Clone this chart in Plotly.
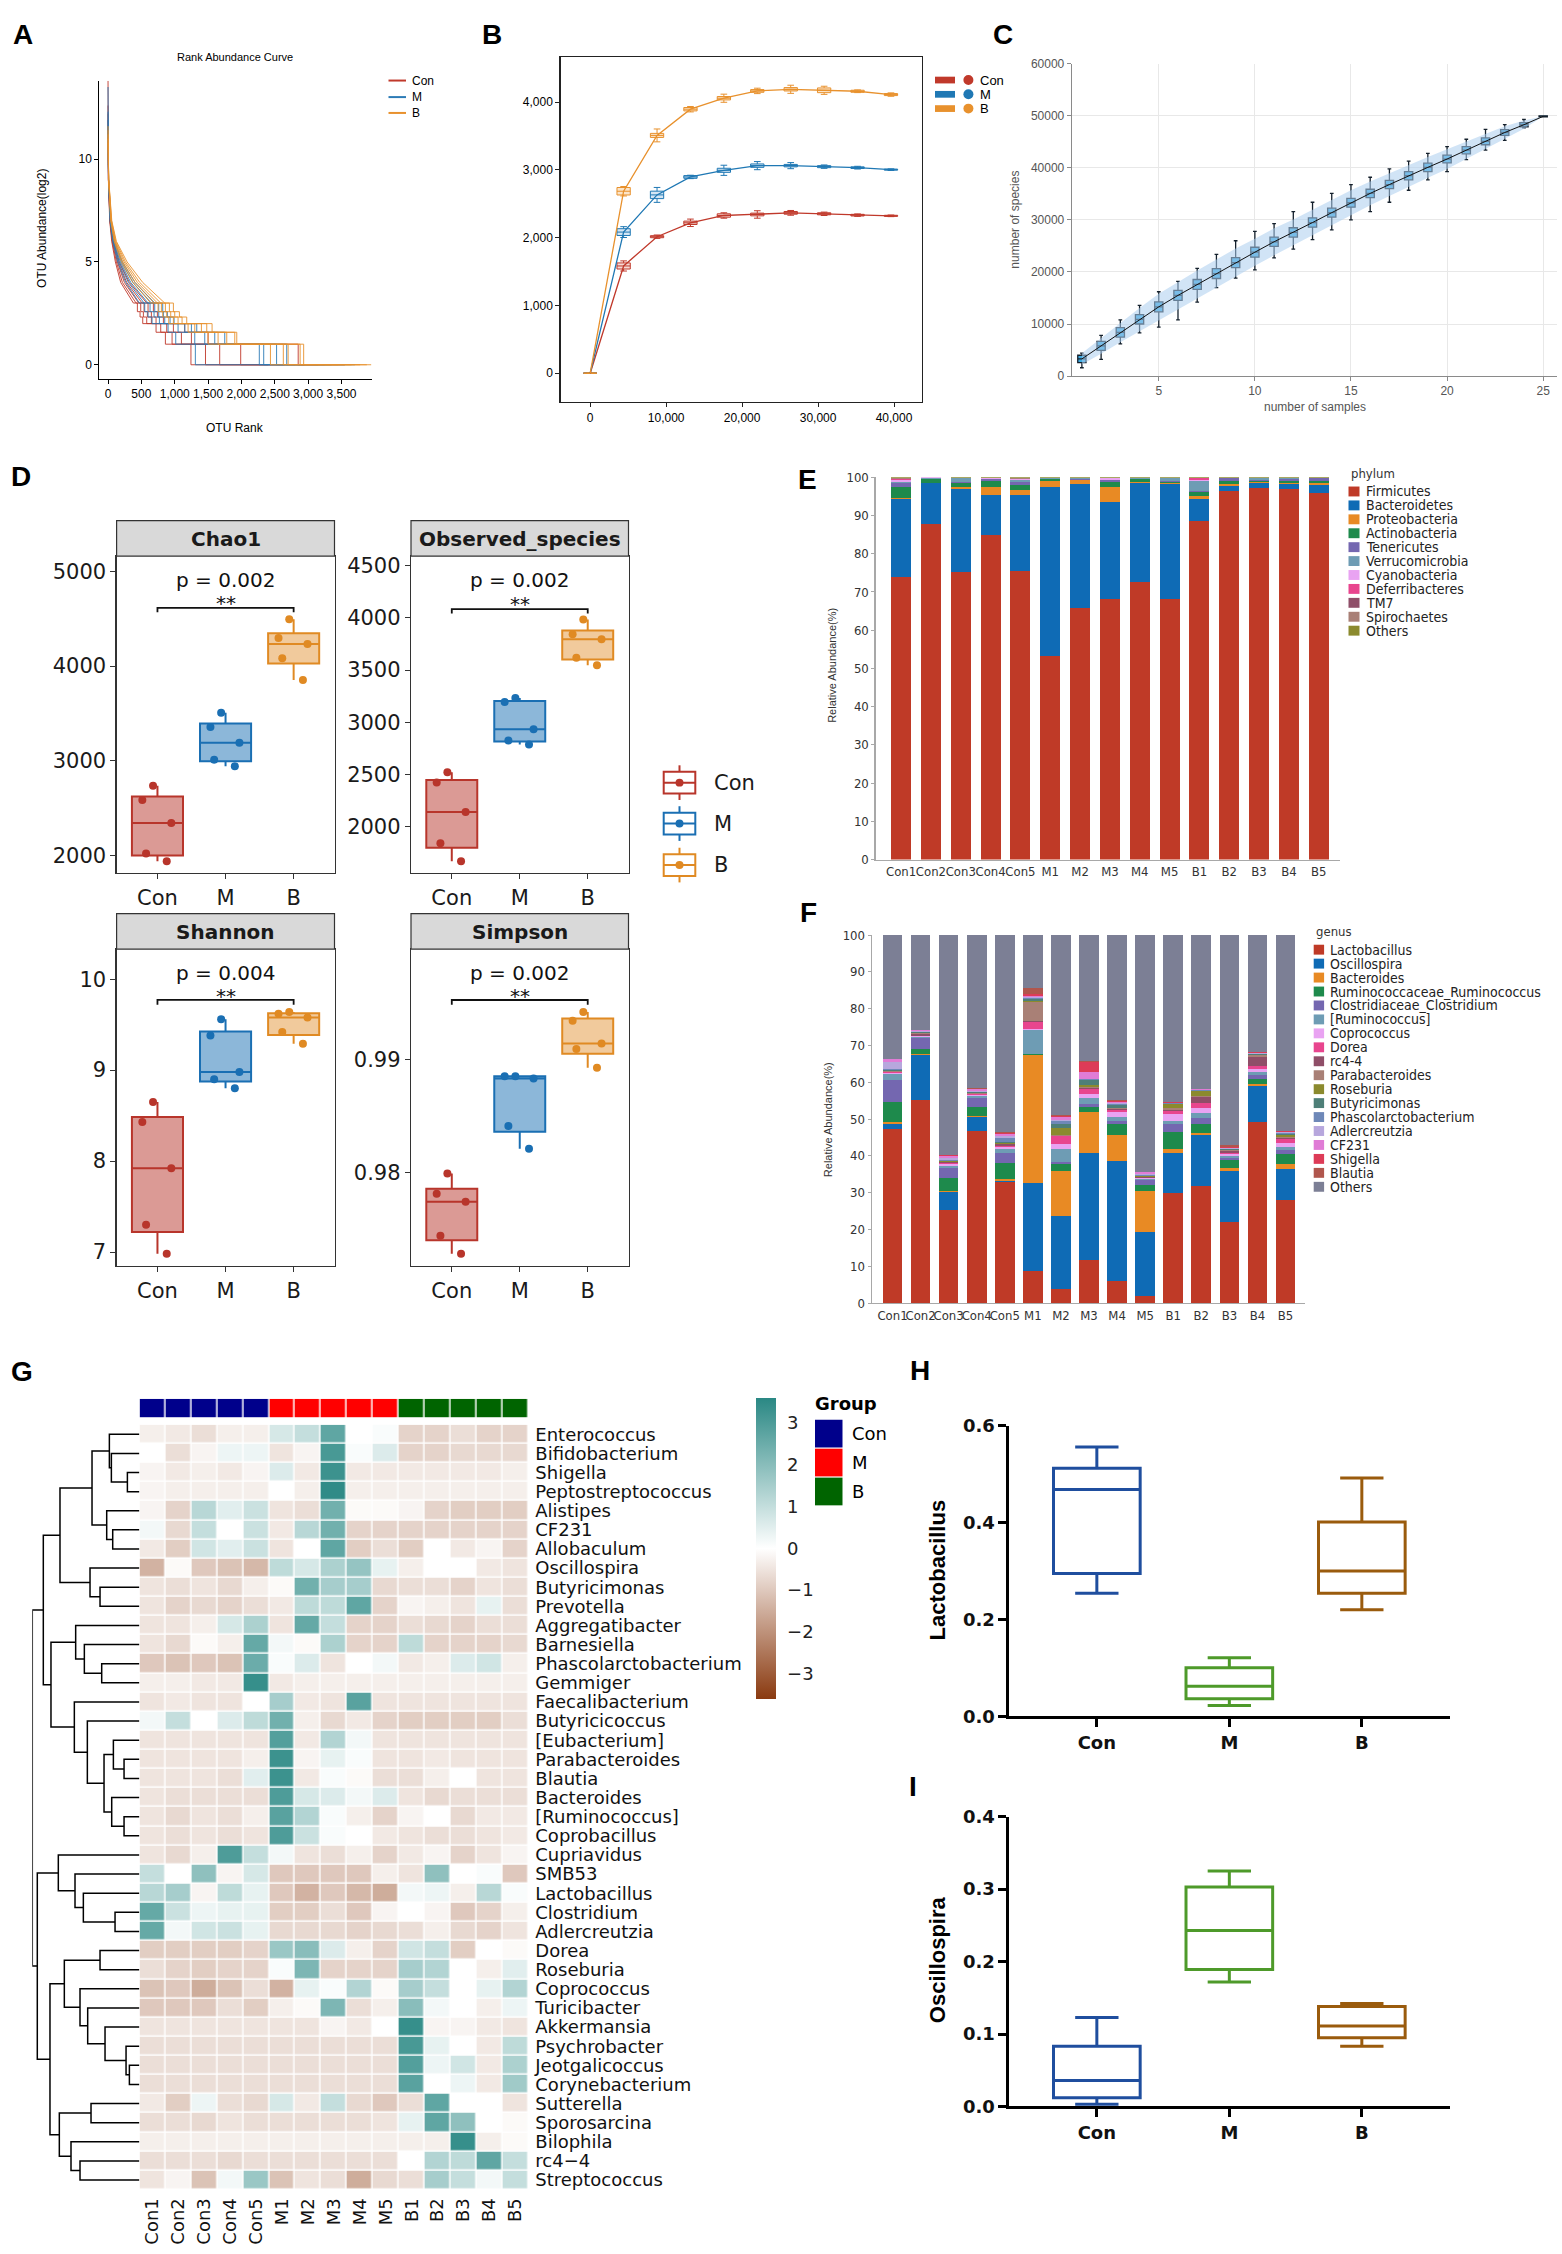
import plotly.graph_objects as go

W, H = 1562, 2254
SANS = "Liberation Sans, Arial, Helvetica, sans-serif"
NARROW = "Liberation Sans Narrow, DejaVu Sans Condensed, Arial Narrow, Liberation Sans, sans-serif"
DEJAVU = "DejaVu Sans, Verdana, sans-serif"

# ---------------- shared categories ----------------
GROUPS = ["Con", "M", "B"]
SAMPLES = ["Con1", "Con2", "Con3", "Con4", "Con5", "M1", "M2", "M3", "M4", "M5",
           "B1", "B2", "B3", "B4", "B5"]
SAMPLE_GROUP = ["Con"] * 5 + ["M"] * 5 + ["B"] * 5

# ---------------- A: rank abundance ----------------
RA_TOP = [13.8, 12.6, 12.2, 11.9, 11.6, 13.5, 12.3, 11.9, 11.6, 11.3, 11.6, 11.4, 11.2, 11.0, 10.8]
RA_HEAD_LEVELS = [9, 7, 6, 5, 4, 3]
RA_HEAD_RANKS = [
    [5, 25, 55, 110, 190, 380], [6, 28, 62, 125, 215, 420], [6, 30, 68, 140, 245, 460],
    [7, 32, 74, 155, 280, 510], [8, 35, 80, 170, 320, 580],
    [6, 30, 70, 145, 265, 470], [7, 34, 78, 165, 305, 540], [8, 37, 85, 185, 340, 600],
    [8, 40, 92, 200, 375, 650], [9, 43, 98, 215, 405, 700],
    [8, 40, 92, 200, 370, 640], [9, 44, 100, 220, 405, 690], [10, 48, 108, 240, 440, 740],
    [10, 52, 116, 260, 475, 790], [11, 56, 125, 285, 520, 850],
]
RA_STEP_LEVELS = [2.58, 2.32, 2, 1.58, 1, 0]
RA_STEP_RANKS = [
    [440, 480, 520, 720, 860, 1243], [490, 530, 580, 790, 960, 1461], [540, 590, 650, 880, 1100, 1674],
    [600, 650, 720, 980, 1250, 1989], [680, 740, 830, 1150, 1500, 2851],
    [550, 600, 660, 900, 1015, 1309], [630, 690, 770, 1050, 1300, 2268], [700, 760, 850, 1150, 1450, 2334],
    [760, 830, 930, 1250, 1600, 2527], [820, 890, 990, 1330, 1750, 2679],
    [750, 820, 910, 1200, 1500, 2435], [800, 880, 980, 1300, 1650, 2628], [860, 940, 1050, 1400, 1780, 2700],
    [920, 1000, 1110, 1480, 1900, 2880], [980, 1070, 1180, 1560, 1930, 2933],
]
RA_END = [2400, 2650, 2950, 3150, 3550, 2800, 3250, 3350, 3550, 3700, 3450, 3650, 3780, 3880, 3947]

# ---------------- B: rarefaction ----------------
B_DEPTH = [0, 4400, 8800, 13200, 17600, 22000, 26400, 30800, 35200, 39600]
B_MED = {
    "Con": [0, 1583, 2015, 2220, 2328, 2343, 2367, 2353, 2333, 2323],
    "M": [0, 2083, 2632, 2897, 2995, 3064, 3064, 3049, 3034, 3005],
    "B": [0, 2686, 3510, 3897, 4059, 4167, 4191, 4176, 4162, 4113],
}
B_IQR_HALF = {
    "Con": [0, 45, 15, 25, 25, 20, 20, 15, 12, 8],
    "M": [0, 50, 55, 20, 30, 25, 18, 15, 12, 8],
    "B": [0, 55, 30, 25, 25, 20, 25, 35, 15, 15],
}
B_WHISK_HALF = {
    "Con": [0, 75, 25, 55, 40, 55, 35, 25, 18, 12],
    "M": [0, 80, 110, 25, 75, 60, 45, 25, 20, 12],
    "B": [0, 70, 95, 40, 60, 40, 60, 60, 20, 25],
}

# ---------------- C: species accumulation ----------------
C_N = list(range(1, 26))
C_MED = [3300, 5800, 8400, 10900, 13300, 15500, 17600, 19700, 21800, 23800, 25800, 27600, 29500,
         31400, 33300, 35100, 36800, 38500, 40100, 41700, 43400, 45100, 46800, 48300, 49900]
C_IQR_HALF = [700, 850, 900, 900, 950, 950, 950, 950, 950, 950, 900, 900, 900, 850, 850, 800, 800,
              800, 800, 750, 700, 650, 550, 400, 100]
C_LO = [1600, 3200, 6200, 8300, 9400, 10800, 14200, 17000, 18800, 20400, 22700, 24400, 26200,
        28100, 30000, 31600, 33400, 35700, 37700, 39300, 41600, 43400, 45300, 47700, 49900]
C_HI = [4400, 7800, 10800, 13600, 16200, 18200, 20700, 23400, 26000, 27800, 29300, 31600, 33400,
        35100, 36800, 38200, 39800, 41300, 42800, 44100, 45500, 47400, 48300, 49300, 49900]
C_BAND_HALF = [1100, 1500, 1900, 2200, 2500, 2600, 2700, 2700, 2700, 2600, 2600, 2500, 2500, 2400,
               2400, 2300, 2200, 2100, 2000, 1900, 1700, 1500, 1200, 800, 0]

# ---------------- D: alpha diversity ----------------
D_METRICS = ["Chao1", "Observed_species", "Shannon", "Simpson"]
D_CHAO1 = {"Con": [2733, 2583, 2340, 2017, 1937], "M": [3506, 3356, 3189, 3010, 2940],
           "B": [4493, 4296, 4233, 4083, 3852]}
D_OBS = {"Con": [2522, 2423, 2141, 1843, 1671], "M": [3232, 3195, 2934, 2825, 2788],
         "B": [3983, 3842, 3795, 3618, 3545]}
D_SHANNON = {"Con": [8.65, 8.43, 7.92, 7.30, 6.98], "M": [9.56, 9.38, 8.98, 8.90, 8.80],
             "B": [9.64, 9.62, 9.58, 9.42, 9.29]}
D_SIMPSON = {"Con": [0.97995, 0.97816, 0.97744, 0.97444, 0.97285],
             "M": [0.98855, 0.98855, 0.98836, 0.98415, 0.98213],
             "B": [0.99425, 0.99348, 0.99145, 0.99097, 0.98932]}
D_P = ["p = 0.002", "p = 0.002", "p = 0.004", "p = 0.002"]
D_SIG = ["**", "**", "**", "**"]

# ---------------- E: phylum ----------------
PHYLA = ["Firmicutes", "Bacteroidetes", "Proteobacteria", "Actinobacteria", "Tenericutes",
         "Verrucomicrobia", "Cyanobacteria", "Deferribacteres", "TM7", "Spirochaetes", "Others"]
E_FIRMICUTES = [73.9, 87.9, 75.1, 84.8, 75.5, 53.3, 65.7, 68.1, 72.6, 68.1, 88.7, 96.5, 97.2, 96.9, 95.9]
E_BACTEROIDETES = [20.5, 10.5, 21.9, 10.6, 19.9, 44.1, 32.5, 25.4, 25.9, 30.1, 5.6, 1.3, 1.3, 1.3, 2.2]
E_PROTEOBACTERIA = [0.2, 0.1, 0.5, 2.0, 1.2, 1.7, 1.0, 3.9, 0.4, 0.3, 0.7, 0.5, 0.2, 0.3, 0.5]
E_ACTINOBACTERIA = [2.8, 1.0, 1.0, 1.7, 1.4, 0.4, 0.2, 1.5, 0.6, 0.3, 1.1, 0.8, 0.3, 0.6, 0.5]
E_TENERICUTES = [1.1, 0.1, 0.4, 0.4, 0.8, 0.1, 0.2, 0.3, 0.1, 0.2, 0.3, 0.6, 0.3, 0.4, 0.6]
E_VERRUCOMICROBIA = [0.2, 0.3, 0.8, 0.1, 0.4, 0.1, 0.2, 0.2, 0.1, 0.7, 2.7, 0.1, 0.4, 0.3, 0.1]
E_CYANOBACTERIA = [0.5, 0.1, 0.1, 0.2, 0.4, 0.1, 0.1, 0.3, 0.1, 0.1, 0.1, 0.1, 0.1, 0.1, 0.1]
E_DEFERRIBACTERES = [0.3, 0, 0, 0, 0, 0, 0, 0, 0, 0, 0.6, 0, 0, 0, 0]
E_TM7 = [0.1, 0, 0, 0, 0, 0, 0, 0, 0, 0, 0.1, 0, 0, 0, 0]
E_SPIROCHAETES = [0.1, 0, 0, 0, 0.1, 0, 0, 0, 0, 0, 0, 0, 0, 0, 0]
E_OTHERS = [0.3, 0.0, 0.2, 0.2, 0.3, 0.2, 0.1, 0.3, 0.2, 0.2, 0.1, 0.1, 0.2, 0.1, 0.1]
E_VALUES = [E_FIRMICUTES, E_BACTEROIDETES, E_PROTEOBACTERIA, E_ACTINOBACTERIA, E_TENERICUTES,
            E_VERRUCOMICROBIA, E_CYANOBACTERIA, E_DEFERRIBACTERES, E_TM7, E_SPIROCHAETES, E_OTHERS]
PALETTE = ["#BF3A27", "#0F6BB5", "#E88A24", "#1E8A4C", "#7467B0", "#6E9CB4", "#E9A3F2",
           "#E8458E", "#8F4E68", "#A98076", "#8B8A2E", "#4E7F78", "#6E88B8", "#B7A7DD",
           "#E07CD6", "#DD3B57", "#B0564D"]
E_COLORS = PALETTE[:10] + ["#8B8A2E"]

# ---------------- F: genus ----------------
GENERA = ["Lactobacillus", "Oscillospira", "Bacteroides", "Ruminococcaceae_Ruminococcus",
          "Clostridiaceae_Clostridium", "[Ruminococcus]", "Coprococcus", "Dorea", "rc4-4",
          "Parabacteroides", "Roseburia", "Butyricimonas", "Phascolarctobacterium",
          "Adlercreutzia", "CF231", "Shigella", "Blautia", "Others"]
F_VALUES = [
    [47.3, 55.2, 25.3, 46.8, 32.9, 8.6, 3.8, 11.8, 6.1, 1.9, 29.9, 31.7, 21.9, 49.1, 28.1],
    [1.3, 12.3, 4.9, 3.8, 0.3, 24.1, 19.8, 29.0, 32.4, 17.5, 11.0, 13.9, 14.0, 9.8, 8.4],
    [0.7, 0.3, 0.3, 0.2, 0.5, 34.6, 12.3, 11.0, 7.3, 11.0, 0.9, 0.5, 0.8, 0.7, 1.2],
    [5.4, 1.2, 3.6, 2.4, 4.4, 0.3, 1.9, 1.4, 2.8, 1.8, 4.8, 2.6, 2.2, 1.3, 2.8],
    [6.0, 3.0, 2.5, 2.6, 2.8, 0.2, 0.5, 0.8, 0.9, 1.2, 2.0, 1.7, 0.6, 1.0, 1.0],
    [1.5, 0.4, 0.6, 0.5, 0.9, 6.3, 3.6, 1.6, 1.0, 0.3, 1.0, 1.2, 0.4, 0.8, 0.8],
    [0.3, 0.2, 0.5, 0.2, 0.6, 0.4, 1.4, 1.2, 1.3, 0.2, 1.7, 1.5, 0.5, 1.0, 1.2],
    [0.2, 0.1, 0.3, 0.2, 0.4, 2.0, 2.0, 1.3, 0.6, 0.2, 1.0, 1.3, 0.3, 0.8, 1.0],
    [0.1, 0.3, 0.2, 0.1, 0.3, 0.2, 0.2, 0.3, 0.3, 0.1, 0.3, 1.5, 0.5, 2.5, 0.3],
    [0.2, 0.4, 0.2, 0.2, 0.2, 5.0, 0.3, 0.4, 0.3, 0.1, 0.3, 0.3, 0.3, 0.3, 0.3],
    [0.1, 0.1, 0.1, 0.1, 0.1, 0.3, 1.8, 0.5, 0.1, 0.1, 1.2, 1.3, 0.1, 0.2, 0.6],
    [0.2, 0.1, 0.1, 0.2, 0.5, 0.6, 1.0, 1.2, 0.8, 0.2, 0.1, 0.2, 0.2, 0.2, 0.3],
    [0.3, 0.2, 0.4, 0.1, 0.9, 0.4, 0.8, 0.3, 0.3, 0.3, 0.1, 0.1, 0.2, 0.1, 0.2],
    [2.0, 0.2, 0.5, 0.3, 0.6, 0.3, 0.3, 0.2, 0.2, 0.3, 0.1, 0.1, 0.1, 0.1, 0.2],
    [0.6, 0.1, 0.4, 0.5, 0.6, 0.2, 0.9, 1.8, 0.2, 0.3, 0.1, 0.2, 0.1, 0.1, 0.2],
    [0.1, 0.1, 0.3, 0.1, 0.3, 0.4, 0.3, 2.8, 0.2, 0.1, 0.1, 0.1, 0.2, 0.1, 0.1],
    [0.1, 0.1, 0.1, 0.1, 0.2, 1.6, 0.3, 0.2, 0.3, 0.1, 0.1, 0.1, 0.6, 0.1, 0.1],
    [33.6, 25.7, 59.7, 41.6, 53.5, 14.5, 48.8, 34.2, 44.9, 64.3, 45.3, 41.7, 57.0, 31.8, 53.2],
]
F_COLORS = PALETTE + ["#7C7F95"]

# ---------------- G: heatmap ----------------
HM_GENERA = ["Enterococcus", "Bifidobacterium", "Shigella", "Peptostreptococcus", "Alistipes",
             "CF231", "Allobaculum", "Oscillospira", "Butyricimonas", "Prevotella",
             "Aggregatibacter", "Barnesiella", "Phascolarctobacterium", "Gemmiger",
             "Faecalibacterium", "Butyricicoccus", "[Eubacterium]", "Parabacteroides", "Blautia",
             "Bacteroides", "[Ruminococcus]", "Coprobacillus", "Cupriavidus", "SMB53",
             "Lactobacillus", "Clostridium", "Adlercreutzia", "Dorea", "Roseburia", "Coprococcus",
             "Turicibacter", "Akkermansia", "Psychrobacter", "Jeotgalicoccus", "Corynebacterium",
             "Sutterella", "Sporosarcina", "Bilophila", "rc4\u22124", "Streptococcus"]
HM_Z = [
    [-0.3, -0.4, -0.6, -0.3, -0.3, 0.7, 1.0, 2.7, 0.0, 0.1, -0.8, -0.8, -0.6, -0.8, -0.8],
    [0.0, -0.6, -0.2, 0.3, 0.3, -0.5, -0.2, 3.1, 0.1, 0.6, -0.8, -0.8, -0.7, -0.7, -0.7],
    [-0.2, -0.4, -0.3, -0.4, -0.2, 0.6, -0.4, 3.3, -0.4, -0.4, -0.4, -0.4, -0.4, -0.4, -0.3],
    [-0.2, -0.3, -0.3, -0.3, -0.3, 0.0, -0.3, 3.5, -0.3, -0.3, -0.3, -0.3, -0.3, -0.3, -0.3],
    [-0.2, -0.8, 1.2, 0.5, 0.9, -0.5, -0.6, 2.4, -0.1, -0.1, -0.2, -0.8, -0.9, -0.9, -0.9],
    [0.2, -0.7, 1.0, 0.0, 0.9, -0.4, 1.2, 2.4, -0.8, -0.8, -0.8, -0.8, -0.8, -0.8, -0.8],
    [-0.4, -0.9, 0.8, 0.5, 0.9, -0.5, 0.0, 2.7, -0.9, -0.6, -0.9, 0.0, -0.4, -0.2, -0.8],
    [-1.4, -0.1, -1.0, -1.1, -1.3, 1.1, 0.7, 1.4, 1.8, 0.4, -0.3, 0.0, 0.0, -0.4, -0.5],
    [-0.5, -0.6, -0.5, -0.7, -0.3, -0.1, 2.4, 1.5, 1.5, -0.7, -0.6, -0.6, -0.8, -0.5, -0.6],
    [-0.5, -0.8, -0.7, -0.8, -0.6, -0.4, 1.1, 1.1, 2.7, -0.8, -0.2, -0.3, -0.5, 0.4, -0.6],
    [-0.5, -0.5, -0.3, 0.7, 1.4, -0.5, 2.6, 1.0, -0.8, -0.8, -0.6, -0.7, -0.8, -0.6, -0.6],
    [-0.5, -0.7, -0.1, -0.3, 2.6, 0.2, -0.1, 1.4, -0.8, -0.8, 1.1, -0.8, -0.8, -0.8, -0.7],
    [-1.0, -1.1, -1.0, -1.1, 2.5, 0.1, 0.6, -0.5, 0.0, 0.2, -0.4, -0.3, 0.6, 0.8, -0.3],
    [-0.3, -0.3, -0.4, -0.4, 3.4, -0.4, -0.3, -0.3, -0.3, -0.3, -0.3, -0.3, -0.3, -0.3, -0.3],
    [-0.5, -0.4, -0.5, -0.5, 0.0, 1.5, -0.4, -0.5, 2.8, -0.5, -0.5, -0.5, -0.5, -0.5, -0.5],
    [0.2, 1.0, 0.0, 0.6, 1.1, 2.4, -0.3, -0.7, -0.4, -0.8, -0.9, -0.9, -0.9, -0.9, -0.6],
    [-0.5, -0.5, -0.5, -0.5, -0.5, 2.9, -0.4, 1.3, 0.2, -0.5, -0.5, -0.5, -0.5, -0.5, -0.5],
    [-0.5, -0.5, -0.5, -0.5, -0.3, 3.3, -0.2, 0.4, 0.1, -0.5, -0.5, -0.4, -0.5, -0.5, -0.5],
    [-0.5, -0.5, -0.5, -0.6, 0.5, 3.3, -0.4, 0.1, -0.1, -0.6, -0.6, -0.3, 0.0, -0.5, -0.5],
    [-0.5, -0.6, -0.6, -0.6, -0.6, 3.0, 0.7, 0.6, 0.2, 0.6, -0.5, -0.7, -0.6, -0.6, -0.6],
    [-0.5, -0.7, -0.5, -0.6, -0.3, 2.8, 1.3, 0.1, -0.3, -0.8, -0.2, 0.0, -0.7, -0.4, -0.4],
    [-0.5, -0.6, -0.5, -0.6, -0.5, 3.0, 0.9, 0.1, 0.0, -0.4, -0.5, -0.6, -0.6, -0.5, -0.4],
    [-0.5, -0.7, -0.3, 3.0, 1.0, 0.2, -0.5, -0.6, -0.3, -0.8, -0.4, -0.2, -0.8, -0.5, -0.2],
    [1.0, 0.0, 1.9, -0.2, 0.7, -1.0, -1.0, -1.0, -1.0, -0.3, -0.5, 1.9, 0.0, 0.1, -1.0],
    [1.2, 1.5, -0.2, 1.1, 0.4, -1.0, -1.4, -1.0, -1.3, -1.5, 0.2, 0.3, -0.3, 1.2, 0.1],
    [2.6, 0.9, 0.3, 0.4, 0.4, -0.9, -0.9, -0.6, -1.0, -0.2, 0.0, -0.2, -1.0, -0.8, -0.3],
    [2.6, 0.2, 0.8, 0.9, 0.4, -0.7, -0.7, -0.7, -0.8, -0.7, -0.6, -0.3, -0.7, -0.8, -0.5],
    [-0.9, -0.9, -0.9, -0.9, -0.8, 1.7, 2.0, 0.6, -0.3, -0.8, 0.8, 1.0, -0.9, 0.0, -0.1],
    [-0.6, -0.8, -0.9, -0.8, -0.8, 0.1, 2.2, -0.8, -0.8, -0.8, 1.5, 1.3, 0.0, -0.3, 0.5],
    [-1.1, -1.0, -1.5, -1.1, -0.6, -1.4, 0.4, 0.1, 1.3, -0.1, 1.5, 1.0, 0.0, 0.4, 1.3],
    [-1.0, -1.0, -1.0, -0.6, -0.9, -0.3, -0.1, 2.2, -0.6, -0.3, 2.0, 0.2, 0.0, -0.3, 0.3],
    [-0.5, -0.5, -0.5, -0.5, -0.5, -0.5, -0.5, -0.2, -0.4, 0.0, 3.4, -0.2, -0.2, -0.4, -0.5],
    [-0.6, -0.6, -0.6, -0.6, -0.6, -0.6, -0.6, -0.6, -0.6, -0.6, 3.1, 0.4, 0.0, -0.4, 1.1],
    [-0.6, -0.6, -0.6, -0.6, -0.6, -0.6, -0.6, -0.6, -0.6, -0.6, 2.9, 0.3, 0.8, -0.4, 1.4],
    [-0.6, -0.6, -0.6, -0.6, -0.6, -0.6, -0.6, -0.6, -0.6, -0.6, 2.8, 0.0, 0.3, -0.4, 1.6],
    [-0.4, -0.9, 0.3, -0.6, -0.7, 0.7, -0.4, 1.0, -0.7, -1.0, -0.6, 2.7, 0.0, 0.0, -0.5],
    [-0.6, -0.6, -0.7, -0.5, -0.6, -0.6, -0.6, -0.6, -0.6, -0.5, 0.4, 2.7, 1.9, 0.0, -0.1],
    [-0.3, -0.3, -0.3, -0.3, -0.3, -0.3, -0.3, -0.3, -0.3, -0.3, -0.3, -0.3, 3.4, -0.3, -0.1],
    [-0.6, -0.6, -0.6, -0.7, -0.6, -0.6, -0.6, -0.6, -0.6, -0.6, 0.0, 1.3, 1.1, 2.7, 1.0],
    [-0.5, -0.2, -1.1, 0.2, 1.7, -1.1, -0.5, -0.6, -1.5, -0.7, -0.6, 1.5, 1.0, 0.2, 1.0],
]
# hierarchical clustering of rows: (child a, child b, merge height); leaves 0..39, merges 40..
HM_MERGES = [
    (2, 3, 36), (1, 40, 84), (0, 41, 90), (5, 6, 80), (4, 43, 98), (42, 44, 142),
    (8, 9, 118), (7, 46, 148), (45, 47, 238), (12, 13, 113), (11, 49, 165), (10, 50, 191),
    (17, 18, 46), (16, 52, 78), (20, 21, 46), (19, 54, 83), (53, 55, 106), (15, 56, 156),
    (14, 57, 195), (51, 58, 265), (48, 59, 288), (25, 26, 73), (24, 61, 168), (23, 62, 193),
    (22, 63, 243), (27, 28, 118), (33, 34, 30), (32, 66, 40), (31, 67, 103), (30, 68, 155),
    (29, 69, 178), (65, 70, 225), (35, 36, 145), (38, 39, 178), (37, 73, 205), (72, 74, 240),
    (71, 75, 268), (64, 76, 306), (60, 77, 321),
]
GROUP_COLORS_G = {"Con": "#00008B", "M": "#FF0000", "B": "#006400"}

# ---------------- H / I ----------------
H_STATS = {"Con": (0.254, 0.295, 0.468, 0.512, 0.556), "M": (0.022, 0.036, 0.062, 0.100, 0.121),
           "B": (0.220, 0.254, 0.300, 0.401, 0.492)}
I_STATS = {"Con": (0.003, 0.012, 0.036, 0.083, 0.123), "M": (0.172, 0.189, 0.243, 0.303, 0.325),
           "B": (0.083, 0.095, 0.111, 0.138, 0.142)}

# =====================================================================
def fx(px):
    return px / W


def fy(py):
    return 1 - py / H


def xdom(a, b):
    return [a / W, b / W]


def ydom(top, bottom):
    return [1 - bottom / H, 1 - top / H]


fig = go.Figure()
ann = []
shapes = []
layout = {}


def text(x, y, s, size, family=SANS, color="#000", xanchor="center", yanchor="middle",
         angle=0, weight="normal"):
    ann.append(dict(x=fx(x), y=fy(y), xref="paper", yref="paper", text=s, showarrow=False,
                    font=dict(size=size, family=family, color=color, weight=weight),
                    xanchor=xanchor, yanchor=yanchor, textangle=angle))


def rect(x0, y0, x1, y1, fill, line_color=None, lw=0):
    shapes.append(dict(type="rect", xref="paper", yref="paper", x0=fx(x0), x1=fx(x1),
                       y0=fy(y1), y1=fy(y0), fillcolor=fill,
                       line=dict(color=line_color or fill, width=lw)))


def seg(x0, y0, x1, y1, color, width):
    shapes.append(dict(type="line", xref="paper", yref="paper", x0=fx(x0), x1=fx(x1),
                       y0=fy(y0), y1=fy(y1), line=dict(color=color, width=width)))


def circ(cx, cy, r, fill):
    shapes.append(dict(type="circle", xref="paper", yref="paper", x0=fx(cx - r), x1=fx(cx + r),
                       y0=fy(cy + r), y1=fy(cy - r), fillcolor=fill, line=dict(color=fill, width=0)))


# panel letters
for lab, x, y in [("A", 23, 24), ("B", 492, 24), ("C", 1003, 24), ("D", 21, 470), ("E", 807, 473),
                  ("F", 809, 910), ("G", 22, 1373), ("H", 920, 1372), ("I", 913, 1792)]:
    text(x, y, lab, 28, weight="bold")

# ---------------- A ----------------
RA_COLORS = {"Con": "#C0392B", "M": "#2C7BB6", "B": "#E8912D"}
for i in range(len(SAMPLES)):
    xs = [0] + RA_HEAD_RANKS[i]
    ys = [RA_TOP[i]] + RA_HEAD_LEVELS
    prev = RA_HEAD_LEVELS[-1]
    for lvl, r in zip(RA_STEP_LEVELS, RA_STEP_RANKS[i]):
        xs += [r, r]
        ys += [prev, lvl]
        prev = lvl
    xs.append(RA_END[i])
    ys.append(prev)
    fig.add_trace(go.Scatter(x=xs, y=ys, mode="lines", xaxis="x", yaxis="y",
                             line=dict(color=RA_COLORS[SAMPLE_GROUP[i]], width=1), opacity=0.9))
axA = dict(showgrid=False, zeroline=False, showline=True, linecolor="#000", linewidth=1,
           ticks="outside", ticklen=4, tickcolor="#000", tickfont=dict(size=12, family=SANS))
layout["xaxis"] = dict(axA, domain=xdom(99.3, 371.5), anchor="y", range=[-131, 3950],
                       tickvals=[0, 500, 1000, 1500, 2000, 2500, 3000, 3500], tickformat=",")
layout["yaxis"] = dict(axA, domain=ydom(70.3, 371), anchor="x", range=[-0.67, 13.81],
                       tickvals=[0, 5, 10])
text(234.7, 46.8, "Rank Abundance Curve", 11)
text(234.7, 420.9, "OTU Rank", 12)
text(42, 220, "OTU Abundance(log2)", 12, angle=-90)
for k, g in enumerate(GROUPS):
    cy = [70.2, 86.9, 102.9][k]
    seg(388.5, cy, 406, cy, RA_COLORS[g], 2)
    text(410.4, cy, g, 12, xanchor="left")

# ---------------- B ----------------
B_COLORS = {"Con": "#C0392B", "M": "#1F78B4", "B": "#E8912D"}
B_FILL = {"Con": "#F6D9D5", "M": "#D4E6F4", "B": "#FBE4C8"}
for g in GROUPS:
    med = B_MED[g]
    iq = B_IQR_HALF[g]
    wh = B_WHISK_HALF[g]
    fig.add_trace(go.Scatter(x=B_DEPTH, y=med, mode="lines", xaxis="x2", yaxis="y2",
                             line=dict(color=B_COLORS[g], width=1.3)))
    fig.add_trace(go.Box(x=B_DEPTH, median=med,
                         q1=[m - d for m, d in zip(med, iq)], q3=[m + d for m, d in zip(med, iq)],
                         lowerfence=[m - d for m, d in zip(med, wh)],
                         upperfence=[m + d for m, d in zip(med, wh)],
                         width=1750, whiskerwidth=0.5, fillcolor=B_FILL[g], boxpoints=False,
                         line=dict(color=B_COLORS[g], width=1), xaxis="x2", yaxis="y2"))
axB = dict(showgrid=False, zeroline=False, showline=True, mirror=True, linecolor="#222",
           linewidth=1.2, ticks="outside", ticklen=4, tickcolor="#222",
           tickfont=dict(size=12, family=SANS), tickformat=",")
layout["xaxis2"] = dict(axB, domain=xdom(560.5, 921.7), anchor="y2", range=[-3911, 43647],
                        tickvals=[0, 10000, 20000, 30000, 40000])
layout["yaxis2"] = dict(axB, domain=ydom(46.2, 394.8), anchor="x2", range=[-427, 4671],
                        tickvals=[0, 1000, 2000, 3000, 4000])
for k, g in enumerate(GROUPS):
    cy = [69.7, 84.1, 98.5][k]
    rect(935, cy - 3.4, 955, cy + 3.4, B_COLORS[g])
    circ(968.4, cy, 5, B_COLORS[g])
    text(978.4, cy, g, 13, xanchor="left")

# ---------------- C ----------------
band_up = [m + d for m, d in zip(C_MED, C_BAND_HALF)]
band_lo = [m - d for m, d in zip(C_MED, C_BAND_HALF)]
fig.add_trace(go.Scatter(x=C_N + C_N[::-1], y=band_up + band_lo[::-1], fill="toself",
                         fillcolor="rgba(172,205,238,0.55)", line=dict(width=0), mode="lines",
                         xaxis="x3", yaxis="y3"))
fig.add_trace(go.Scatter(x=C_N, y=C_MED, mode="lines", line=dict(color="#111", width=1),
                         xaxis="x3", yaxis="y3"))
fig.add_trace(go.Box(x=C_N, median=C_MED, q1=[m - d for m, d in zip(C_MED, C_IQR_HALF)],
                     q3=[m + d for m, d in zip(C_MED, C_IQR_HALF)], lowerfence=C_LO,
                     upperfence=C_HI, width=0.43, whiskerwidth=0.45, fillcolor="#3DA9E0",
                     boxpoints=False, line=dict(color="#14202c", width=1.3),
                     xaxis="x3", yaxis="y3"))
axC = dict(showgrid=True, gridcolor="#E8E8E8", gridwidth=1, zeroline=False, showline=True,
           linecolor="#8A8A8A", linewidth=1, ticks="outside", ticklen=4, tickcolor="#8A8A8A",
           tickfont=dict(size=12, family=SANS, color="#555"))
layout["xaxis3"] = dict(axC, domain=xdom(1071.7, 1557.4), anchor="y3", range=[0.47, 25.74],
                        tickvals=[5, 10, 15, 20, 25], tickformat="d")
layout["yaxis3"] = dict(axC, domain=ydom(53.3, 368.5), anchor="x3", range=[0, 60000],
                        tickvals=[0, 10000, 20000, 30000, 40000, 50000, 60000], tickformat="d")
text(1315, 400, "number of samples", 12, color="#555")
text(1015, 210.6, "number of species", 12, color="#555", angle=-90)

# ---------------- D ----------------
D_LINE = {"Con": "#B8352B", "M": "#1A6FB3", "B": "#E08A23"}
D_FILL = {"Con": "rgba(184,53,43,0.5)", "M": "rgba(26,111,179,0.5)", "B": "rgba(224,138,35,0.45)"}
D_VALUES = [D_CHAO1, D_OBS, D_SHANNON, D_SIMPSON]
D_CELLS = [((116.6, 334.5), 0), ((411, 628.5), 0), ((116.6, 334.5), 1), ((411, 628.5), 1)]
D_ROWS = [((514.5, 550.2), (550.2, 870.3)), ((911.2, 946.9), (946.9, 1267.1))]
D_RANGES = [[1810, 5162], [1556, 4590], [6.843, 10.331], [0.97173, 0.99982]]
D_TICKS = [[2000, 3000, 4000, 5000], [2000, 2500, 3000, 3500, 4000, 4500], [7, 8, 9, 10], [0.98, 0.99]]
D_SIG_Y = [(4614, 4568, 4712, 4914), (4082, 4041, 4171, 4364), (9.772, 9.718, 9.862, 10.072),
           (0.99531, 0.99488, 0.99604, 0.99773)]
axD = dict(showgrid=False, zeroline=False, showline=True, mirror=True, linecolor="#333",
           linewidth=1.2, ticks="outside", ticklen=5, tickcolor="#333",
           tickfont=dict(size=21, family=DEJAVU, color="#1a1a1a"))
for k in range(4):
    ax = 4 + k
    (x0, x1), row = D_CELLS[k]
    (s0, s1), (p0, p1) = D_ROWS[row]
    vals = D_VALUES[k]
    for gi, g in enumerate(GROUPS):
        fig.add_trace(go.Box(y=vals[g], x=[gi] * len(vals[g]), boxpoints="all", jitter=0.7,
                             pointpos=0, width=0.75, whiskerwidth=0, fillcolor=D_FILL[g],
                             line=dict(color=D_LINE[g], width=2),
                             marker=dict(color=D_LINE[g], size=8),
                             xaxis=f"x{ax}", yaxis=f"y{ax}"))
    layout[f"xaxis{ax}"] = dict(axD, domain=xdom(x0, x1), anchor=f"y{ax}", range=[-0.6, 2.6],
                                tickvals=[0, 1, 2], ticktext=GROUPS)
    layout[f"yaxis{ax}"] = dict(axD, domain=ydom(p0, p1), anchor=f"x{ax}", range=D_RANGES[k],
                                tickvals=D_TICKS[k])
    rect(x0, s0, x1, s1, "#D9D9D9", "#333", 1.2)
    text((x0 + x1) / 2, (s0 + s1) / 2 + 1, D_METRICS[k], 20, family=DEJAVU, color="#1a1a1a",
         weight="bold")
    yb, yt, ys, yp = D_SIG_Y[k]
    shapes.append(dict(type="path", xref=f"x{ax}", yref=f"y{ax}",
                       path=f"M 0,{yt} L 0,{yb} L 2,{yb} L 2,{yt}",
                       line=dict(color="#111", width=1.8)))
    ann.append(dict(x=1, y=ys, xref=f"x{ax}", yref=f"y{ax}", text=D_SIG[k], showarrow=False,
                    yshift=-4, font=dict(size=20, family=DEJAVU, color="#111")))
    ann.append(dict(x=1, y=yp, xref=f"x{ax}", yref=f"y{ax}", text=D_P[k], showarrow=False,
                    font=dict(size=20, family=DEJAVU, color="#111")))
for k, g in enumerate(GROUPS):
    cy = [778.9, 820.2, 862.1][k]
    seg(679.5, cy - 17.5, 679.5, cy - 11, D_LINE[g], 2)
    seg(679.5, cy + 11, 679.5, cy + 17.5, D_LINE[g], 2)
    rect(663.7, cy - 11, 695.3, cy + 11, "rgba(255,255,255,1)", D_LINE[g], 2)
    seg(663.7, cy, 695.3, cy, D_LINE[g], 2)
    circ(679.5, cy, 4, D_LINE[g])
    text(712, cy, g, 21, family=DEJAVU, xanchor="left", color="#1a1a1a")

# ---------------- E ----------------
for name, vals, col in zip(PHYLA, E_VALUES, E_COLORS):
    fig.add_trace(go.Bar(x=SAMPLES, y=vals, name=name, width=0.67, marker=dict(color=col, line=dict(width=0)),
                         xaxis="x8", yaxis="y8"))
axE = dict(showgrid=False, zeroline=False, showline=True, linecolor="#A8A8A8", linewidth=1.2)
layout["xaxis8"] = dict(axE, domain=xdom(875.6, 1339.6), anchor="y8", type="category",
                        range=[-0.855, 14.70], ticks="", tickangle=0,
                        tickfont=dict(size=13, family=NARROW, color="#333"))
layout["yaxis8"] = dict(axE, domain=ydom(470.7, 856.5), anchor="x8", range=[0, 100],
                        tickvals=list(range(0, 101, 10)), ticks="outside", ticklen=3,
                        tickcolor="#A8A8A8", tickfont=dict(size=13, family=NARROW, color="#333"))
text(832, 661, "Relative Abundance(%)", 11, color="#333", angle=-90)
text(1348.5, 466.7, "phylum", 13, family=NARROW, color="#333", xanchor="left")
for k, (name, col) in enumerate(zip(PHYLA, E_COLORS)):
    cy = 485 + k * 14.05
    rect(1348.5, cy - 5, 1359.5, cy + 5, col)
    text(1363.5, cy, name, 14, family=NARROW, color="#222", xanchor="left")

# ---------------- F ----------------
for name, vals, col in zip(GENERA, F_VALUES, F_COLORS):
    fig.add_trace(go.Bar(x=SAMPLES, y=vals, name=name, width=0.7, marker=dict(color=col, line=dict(width=0)),
                         xaxis="x9", yaxis="y9"))
layout["xaxis9"] = dict(axE, domain=xdom(871.8, 1305.2), anchor="y9", type="category",
                        range=[-0.737, 14.70], ticks="", tickangle=0,
                        tickfont=dict(size=13, family=NARROW, color="#333"))
layout["yaxis9"] = dict(axE, domain=ydom(932.8, 1304.2), anchor="x9", range=[0, 100],
                        tickvals=list(range(0, 101, 10)), ticks="outside", ticklen=3,
                        tickcolor="#A8A8A8", tickfont=dict(size=13, family=NARROW, color="#333"))
text(828, 1118.6, "Relative Abundance(%)", 11, color="#333", angle=-90)
text(1313.7, 929.5, "genus", 13, family=NARROW, color="#333", xanchor="left")
for k, (name, col) in enumerate(zip(GENERA, F_COLORS)):
    cy = 947.5 + k * 14.08
    rect(1313.7, cy - 5, 1324.1, cy + 5, col)
    text(1328, cy, name, 14, family=NARROW, color="#222", xanchor="left")

# ---------------- G ----------------
HM_SCALE = [[0, "#8A3A10"], [0.5, "#FFFFFF"], [1, "#2A8884"]]
fig.add_trace(go.Heatmap(z=HM_Z, x=list(range(len(SAMPLES))), y=list(range(len(HM_GENERA))),
                         colorscale=HM_SCALE, zmin=-3.6, zmax=3.6, xgap=1.5, ygap=1.5,
                         xaxis="x10", yaxis="y10",
                         colorbar=dict(x=fx(756), xanchor="left", y=fy(1551.7), yanchor="middle",
                                       len=303.7 / H, lenmode="fraction", thickness=20,
                                       thicknessmode="pixels", outlinewidth=0, xpad=0, ypad=0,
                                       tickvals=[-3, -2, -1, 0, 1, 2, 3], ticks="outside",
                                       ticklen=8, tickcolor="rgba(0,0,0,0)",
                                       tickfont=dict(size=18, family=DEJAVU, color="#222"))))
group_index = [GROUPS.index(g) for g in SAMPLE_GROUP]
GROUP_SCALE = [[0, GROUP_COLORS_G["Con"]], [1 / 3, GROUP_COLORS_G["Con"]],
               [1 / 3, GROUP_COLORS_G["M"]], [2 / 3, GROUP_COLORS_G["M"]],
               [2 / 3, GROUP_COLORS_G["B"]], [1, GROUP_COLORS_G["B"]]]
fig.add_trace(go.Heatmap(z=[group_index], x=list(range(len(SAMPLES))), y=[0],
                         colorscale=GROUP_SCALE, zmin=-0.5, zmax=2.5, showscale=False,
                         xgap=1.5, xaxis="x10", yaxis="y11"))
layout["xaxis10"] = dict(domain=xdom(139.6, 528.3), anchor="y10", range=[-0.5, 14.5],
                         tickvals=list(range(len(SAMPLES))), ticktext=SAMPLES, tickangle=-90,
                         ticks="", showgrid=False, zeroline=False, showline=False,
                         ticklabelstandoff=4, tickfont=dict(size=18, family=DEJAVU, color="#111"))
layout["yaxis10"] = dict(domain=ydom(1427, 2199.1), anchor="x10", side="right",
                         range=[len(HM_GENERA) - 0.5, -0.5], tickvals=list(range(len(HM_GENERA))),
                         ticktext=HM_GENERA, ticks="", showgrid=False, zeroline=False,
                         showline=False, ticklabelstandoff=6,
                         tickfont=dict(size=18, family=DEJAVU, color="#111"))
layout["yaxis11"] = dict(domain=ydom(1400.9, 1419.6), anchor="x10", range=[-0.5, 0.5],
                         visible=False)
# dendrogram
node_y = {i: float(i) for i in range(len(HM_GENERA))}
node_h = {i: 0.0 for i in range(len(HM_GENERA))}
dx, dy = [], []
for k, (a, b, h) in enumerate(HM_MERGES):
    n = len(HM_GENERA) + k
    dx += [node_h[a], h, h, node_h[b], None]
    dy += [node_y[a], node_y[a], node_y[b], node_y[b], None]
    node_y[n] = (node_y[a] + node_y[b]) / 2
    node_h[n] = h
fig.add_trace(go.Scatter(x=dx, y=dy, mode="lines", line=dict(color="#000", width=1.5),
                         xaxis="x12", yaxis="y12"))
max_h = max(m[2] for m in HM_MERGES)
layout["xaxis12"] = dict(domain=xdom(32.3, 139.4), anchor="y12", range=[max_h, 0], visible=False)
layout["yaxis12"] = dict(domain=ydom(1427, 2199.1), anchor="x12",
                         range=[len(HM_GENERA) - 0.5, -0.5], visible=False)
text(813, 1405.7, "Group", 18, family=DEJAVU, xanchor="left", weight="bold")
for k, g in enumerate(GROUPS):
    y0 = 1422 + k * 29.2
    rect(815, y0, 842.5, y0 + 28, GROUP_COLORS_G[g])
    text(850, y0 + 14, g, 18, family=DEJAVU, xanchor="left")

# ---------------- H / I ----------------
HI_COLORS = {"Con": "#1F4E9E", "M": "#4E9A2A", "B": "#9A5B0D"}
for ax, stats in ((13, H_STATS), (14, I_STATS)):
    for gi, g in enumerate(GROUPS):
        lo, q1, med, q3, hi = stats[g]
        fig.add_trace(go.Box(x=[gi], q1=[q1], median=[med], q3=[q3], lowerfence=[lo],
                             upperfence=[hi], width=0.654, whiskerwidth=0.5,
                             fillcolor="rgba(0,0,0,0)", boxpoints=False,
                             line=dict(color=HI_COLORS[g], width=3),
                             xaxis=f"x{ax}", yaxis=f"y{ax}"))
axHI = dict(showgrid=False, zeroline=False, showline=True, linecolor="#000", linewidth=3,
            ticks="outside", ticklen=8, tickwidth=3, tickcolor="#000",
            tickfont=dict(size=18, family=DEJAVU, color="#111", weight="bold"))
layout["xaxis13"] = dict(axHI, domain=xdom(1009.4, 1450.2), anchor="y13", range=[-0.66, 2.667],
                         tickvals=[0, 1, 2], ticktext=GROUPS)
layout["yaxis13"] = dict(axHI, domain=ydom(1428, 1721.3), anchor="x13", range=[0, 0.6],
                         tickvals=[0, 0.2, 0.4, 0.6], tickformat=".1f")
layout["xaxis14"] = dict(axHI, domain=xdom(1009.4, 1450.2), anchor="y14", range=[-0.66, 2.667],
                         tickvals=[0, 1, 2], ticktext=GROUPS)
layout["yaxis14"] = dict(axHI, domain=ydom(1822.7, 2115.2), anchor="x14", range=[0, 0.4],
                         tickvals=[0, 0.1, 0.2, 0.3, 0.4], tickformat=".1f")
text(937.4, 1573.7, "Lactobacillus", 22, angle=-90, weight="bold")
text(937.4, 1967.1, "Oscillospira", 22, angle=-90, weight="bold")

fig.update_traces(showlegend=False, hoverinfo="skip")
fig.update_layout(width=W, height=H, margin=dict(l=0, r=0, t=0, b=0, pad=0),
                  paper_bgcolor="white", plot_bgcolor="white", showlegend=False,
                  barmode="stack", boxmode="overlay",
                  font=dict(family=SANS, color="#000"), annotations=ann, shapes=shapes, **layout)
fig.write_html("out.html", include_plotlyjs=True, full_html=True,
               config={"displayModeBar": False, "staticPlot": True},
               post_script="document.body.style.margin='0';document.body.style.overflow='hidden';")
